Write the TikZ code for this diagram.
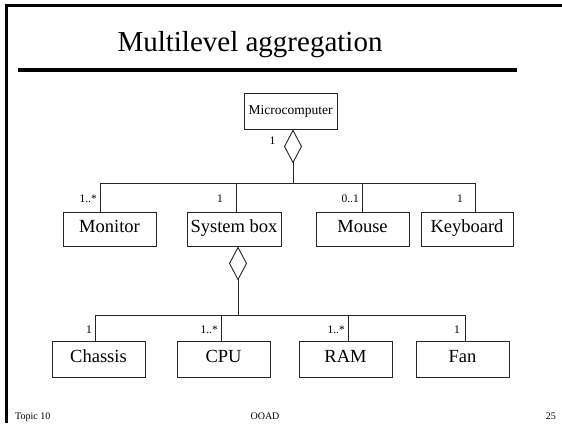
\documentclass[tikz,border=0pt]{standalone}
\usepackage{fontspec}
\setmainfont{Liberation Serif}
\usetikzlibrary{arrows.meta}
\begin{document}
\begin{tikzpicture}[x=1pt,y=-1pt,
  cls/.style={draw=black!85,line width=0.9pt,rectangle,inner sep=0pt,minimum width=93pt,minimum height=34pt,text height=0.75em,text depth=0.1em,font=\fontsize{18.5}{20}\selectfont},
  clsb/.style={cls,minimum height=36pt},
  mult/.style={inner sep=0pt,anchor=east,font=\fontsize{11.5}{12}\selectfont},
  conn/.style={draw=black!85,line width=0.9pt},
  agg/.style={conn,-{Diamond[open,length=34pt,width=18pt,line width=0.9pt]}},
  foot/.style={inner sep=0pt,font=\fontsize{10}{11}\selectfont}]
\useasboundingbox (0,0) rectangle (562,423);
\fill[white] (0,0) rectangle (562,423);
% frame
\draw[line width=2.6pt] (562,5.5) -- (6.3,5.5) -- (6.3,423);
% title
\node[inner sep=0pt,anchor=base,font=\fontsize{29}{31}\selectfont] (title) at (250,51) {Multilevel aggregation};
\coordinate (ruleL) at (18,70);
\coordinate (ruleR) at (517,70);
\draw[line width=4pt] (ruleL) -- (ruleR);
% top level
\node[cls,minimum width=93pt,minimum height=36pt,font=\fontsize{13.5}{14}\selectfont] (micro) at (290.5,111) {Microcomputer};
\coordinate (hub1) at (293,183);
\draw[agg] (hub1) -- (hub1 |- micro.south);
\node[mult] (m0) at (275.5,141) {1};
% second row
\node[cls] (mon) at (109.5,229) {Monitor};
\node[cls,minimum width=94pt] (sys) at (234,229) {System box};
\node[cls] (mouse) at (362.5,229) {Mouse};
\node[cls,minimum width=92pt] (key) at (467,229) {Keyboard};
\coordinate (b1) at (100,183);
\coordinate (b2) at (236,183);
\coordinate (b3) at (362,183);
\coordinate (b4) at (475,183);
\draw[conn] (b1) -- (b4);
\draw[conn] (b1) -- (b1 |- mon.north);
\draw[conn] (b2) -- (b2 |- sys.north);
\draw[conn] (b3) -- (b3 |- mouse.north);
\draw[conn] (b4) -- (b4 |- key.north);
\node[mult] (l1) at (97,199) {1..*};
\node[mult] (l2) at (223,199) {1};
\node[mult] (l3) at (359,199) {0..1};
\node[mult] (l4) at (463,199) {1};
% third row
\coordinate (hub2) at (238,315);
\draw[agg] (hub2) -- (hub2 |- sys.south);
\node[clsb] (chassis) at (98.5,359) {Chassis};
\node[clsb] (cpu) at (223.5,359) {CPU};
\node[clsb] (ram) at (345.5,359) {RAM};
\node[clsb] (fan) at (462.5,359) {Fan};
\coordinate (c1) at (95,315);
\coordinate (c2) at (221,315);
\coordinate (c3) at (348,315);
\coordinate (c4) at (465,315);
\draw[conn] (c1) -- (c4);
\draw[conn] (c1) -- (c1 |- chassis.north);
\draw[conn] (c2) -- (c2 |- cpu.north);
\draw[conn] (c3) -- (c3 |- ram.north);
\draw[conn] (c4) -- (c4 |- fan.north);
\node[mult] (k1) at (92,330) {1};
\node[mult] (k2) at (218,330) {1..*};
\node[mult] (k3) at (345,330) {1..*};
\node[mult] (k4) at (460,330) {1};
% footer
\node[foot,anchor=base west] (f1) at (15,419) {Topic 10};
\node[foot,anchor=base] (f2) at (265,419) {OOAD};
\node[foot,anchor=base east] (f3) at (556,419) {25};
\end{tikzpicture}
\end{document}
